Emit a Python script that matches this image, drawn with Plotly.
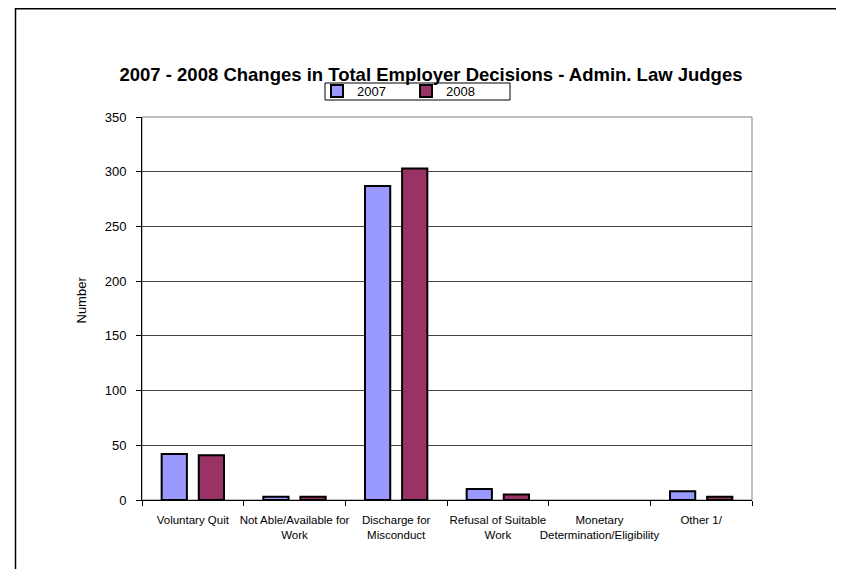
import plotly.graph_objects as go

categories = [
    "Voluntary Quit",
    "Not Able/Available for<br>Work",
    "Discharge for<br>Misconduct",
    "Refusal of Suitable<br>Work",
    "Monetary<br>Determination/Eligibility",
    "Other 1/",
]
series_2007 = [42, 3, 287, 10, 0, 8]
series_2008 = [41, 3, 303, 5, 0, 3]
y_ticks = [0, 50, 100, 150, 200, 250, 300, 350]

FONT = "Liberation Sans, Arial, sans-serif"

# figure-pixel layout helpers
L, R, T, B = 134, 744, 109, 492
W, H = R - L, B - T
def px(x):
    return (x - L) / W
def py(y):
    return (B - y) / H

def outline(vals):
    return [2 if v > 0 else 0 for v in vals]

fig = go.Figure()
fig.add_trace(go.Bar(name="2007", x=categories, y=series_2007,
                     marker=dict(color="#9999FF", line=dict(color="black", width=outline(series_2007)))))
fig.add_trace(go.Bar(name="2008", x=categories, y=series_2008,
                     marker=dict(color="#993366", line=dict(color="black", width=outline(series_2008)))))

fig.update_layout(
    width=844, height=569,
    margin=dict(l=L, r=844 - R, t=T, b=569 - B, autoexpand=False),
    paper_bgcolor="white", plot_bgcolor="white",
    barmode="group", bargap=0.27, bargroupgap=0.32,
    font=dict(family=FONT, size=12, color="black"),
    title=dict(text="<b>2007 - 2008 Changes in Total Employer Decisions - Admin. Law Judges</b>",
               x=423 / 844, xanchor="center", y=1 - 67 / 569, yanchor="middle",
               font=dict(family=FONT, size=18.5, color="black")),
    legend=dict(orientation="h", x=px(309), xanchor="left",
                y=py(83), yanchor="middle",
                borderwidth=0, bgcolor="rgba(0,0,0,0)",
                font=dict(family=FONT, size=13), traceorder="normal",
                entrywidth=44, itemwidth=30),
    showlegend=True,
)
fig.update_xaxes(
    showline=True, linecolor="black", linewidth=1,
    ticks="outside", tickson="boundaries", ticklen=5, tickcolor="black",
    tickfont=dict(family=FONT, size=11.5), tickangle=0, automargin=False,
    ticklabelstandoff=9,
    showgrid=False,
)
fig.update_yaxes(
    range=[0, 350], tickvals=y_ticks,
    showline=True, linecolor="black", linewidth=1,
    ticks="outside", ticklen=5, tickcolor="black",
    showgrid=True, gridcolor="#444444", gridwidth=1,
    tickfont=dict(family=FONT, size=13), automargin=False,
    ticklabelstandoff=7,
    zeroline=False,
)
# plot-area border (gray)
fig.add_shape(type="rect", xref="paper", yref="paper", x0=0, x1=1, y0=0, y1=1,
              line=dict(color="#808080", width=1), layer="below")
# legend box
fig.add_shape(type="rect", xref="paper", yref="paper",
              x0=px(317), x1=px(502), y0=py(92), y1=py(75),
              line=dict(color="black", width=1), fillcolor="white", layer="below")
# chart-area frame
fig.add_shape(type="rect", xref="paper", yref="paper",
              x0=px(7.5), x1=px(833), y0=py(600), y1=py(0.8),
              line=dict(color="black", width=1.5), layer="below")
fig.add_annotation(text="Number", xref="paper", yref="paper",
                   x=px(63), y=py(292), textangle=-90, showarrow=False,
                   font=dict(family=FONT, size=13))

fig.write_html("out.html")
